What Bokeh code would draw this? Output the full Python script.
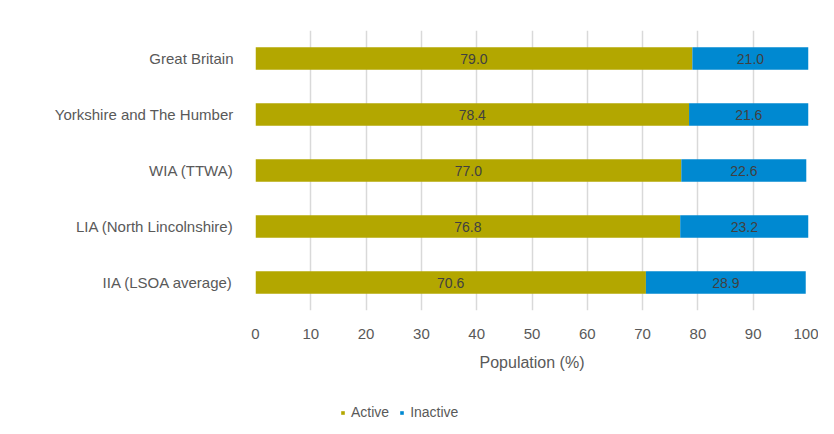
from bokeh.plotting import figure
from bokeh.layouts import column
from bokeh.models import ColumnDataSource, Legend, LegendItem, FactorRange, Range1d
from bokeh.core.properties import value
from bokeh.embed import file_html
from bokeh.resources import INLINE

areas = ["Great Britain", "Yorkshire and The Humber", "WIA (TTWA)",
         "LIA (North Lincolnshire)", "IIA (LSOA average)"]
active = [79.0, 78.4, 77.0, 76.8, 70.6]
inactive = [21.0, 21.6, 22.6, 23.2, 28.9]
x_ticks = [0, 10, 20, 30, 40, 50, 60, 70, 80, 90, 100]
series = ["Active", "Inactive"]

FONT = "Liberation Sans"
OLIVE = "#B3A700"
BLUE = "#0089D1"
GREY = "#595959"
COLORS = [OLIVE, BLUE]

factors = list(reversed(areas))
src = ColumnDataSource(dict(
    area=areas, active=active, inactive=inactive,
    a_mid=[a / 2 for a in active],
    i_mid=[a + i / 2 for a, i in zip(active, inactive)],
    a_lbl=[f"{a:.1f}" for a in active],
    i_lbl=[f"{i:.1f}" for i in inactive],
))

p = figure(width=818, height=380,
           y_range=FactorRange(*factors, range_padding=0),
           x_range=(0, 100), output_backend="svg", toolbar_location=None,
           min_border_left=255, min_border_right=10, min_border_top=30,
           min_border_bottom=70)
p.outline_line_color = None

r = p.hbar_stack(["active", "inactive"], y="area", height=0.4, source=src,
                 color=COLORS, line_color=None)

p.text(x="a_mid", y="area", text="a_lbl", source=src, text_align="center",
       text_baseline="middle", text_font=value(FONT), text_font_size="14px",
       text_color="#404040")
p.text(x="i_mid", y="area", text="i_lbl", source=src, text_align="center",
       text_baseline="middle", text_font=value(FONT), text_font_size="14px",
       text_color="#404040")

p.xaxis.ticker = x_ticks
p.xaxis.axis_label = "Population (%)"
p.xaxis.axis_label_text_font = FONT
p.xaxis.axis_label_text_font_size = "16px"
p.xaxis.axis_label_text_font_style = "normal"
p.xaxis.axis_label_text_color = GREY
p.xaxis.axis_label_standoff = 12
for ax in (p.xaxis, p.yaxis):
    ax.axis_line_color = None
    ax.major_tick_line_color = None
    ax.minor_tick_line_color = None
    ax.major_label_text_font = FONT
    ax.major_label_text_font_size = "15px"
    ax.major_label_text_color = GREY
p.xaxis.major_label_standoff = 12
p.yaxis.major_label_standoff = 16

p.ygrid.grid_line_color = None
p.xgrid.grid_line_color = "#D9D9D9"
p.xgrid.grid_line_width = 1.5

# legend strip below the chart (legend-only renderers sit outside the view)
q = figure(width=818, height=54, x_range=Range1d(0, 1), y_range=Range1d(0, 1),
           output_backend="svg", toolbar_location=None,
           min_border_left=0, min_border_right=0, min_border_top=0,
           min_border_bottom=0)
q.outline_line_color = None
q.axis.visible = False
q.grid.visible = False
lr = [q.scatter(x=[5], y=[5], marker="square", size=9, color=c, line_color=None)
      for c in COLORS]
legend = Legend(items=[LegendItem(label=s, renderers=[g]) for s, g in zip(series, lr)],
                orientation="horizontal", location=(83, 14),
                label_text_font=FONT, label_text_font_size="14px",
                label_text_color=GREY, glyph_width=9, glyph_height=9,
                spacing=8, label_standoff=4, padding=0, margin=0,
                border_line_color=None, background_fill_alpha=0)
q.add_layout(legend, "center")

layout = column(p, q, spacing=0)
open("out.html", "w").write(file_html(layout, INLINE))
